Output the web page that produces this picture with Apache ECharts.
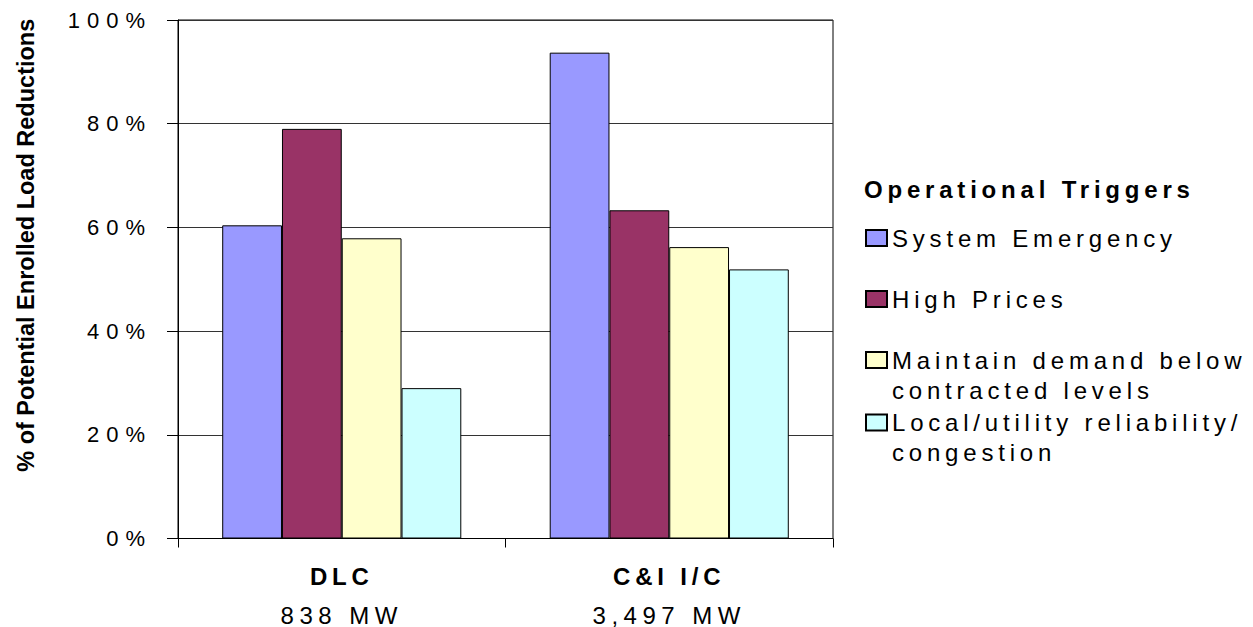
<!DOCTYPE html>
<html>
<head>
<meta charset="utf-8">
<script src="https://cdn.jsdelivr.net/npm/echarts@6/dist/echarts.min.js"></script>
<style>
  html, body { margin: 0; padding: 0; background: #fff; }
  #chart { width: 1253px; height: 627px; }
  /* tracked-out lettering for chart text; the axis title keeps normal spacing */
  #chart text, #chart tspan { letter-spacing: 5.5px; }
  #chart text[style*="sans-serif"], #chart tspan[style*="sans-serif"] { letter-spacing: 4.8px; }
  #chart text[style*="Helvetica"], #chart tspan[style*="Helvetica"] { letter-spacing: 7px; }
  #chart text[style*="Arial"], #chart tspan[style*="Arial"] { letter-spacing: 0; }
</style>
</head>
<body>
<div id="chart"></div>
<script>
// Program types and their enrolled capacity
const categories = ['DLC', 'C&I I/C'];
const capacities = ['838 MW', '3,497 MW'];

// Operational triggers (legend entries)
const triggerNames = [
  'System Emergency',
  'High Prices',
  'Maintain demand below\ncontracted levels',
  'Local/utility reliability/\ncongestion'
];

// % of potential enrolled load reductions, per program type
const systemEmergency = [60.4, 93.7];
const highPrices = [79.0, 63.3];
const maintainDemand = [57.9, 56.2];
const localReliability = [29.0, 51.9];

const seriesValues = [systemEmergency, highPrices, maintainDemand, localReliability];
const seriesColors = ['#9999FF', '#993366', '#FFFFCC', '#CCFFFF'];

// Value axis ticks
const yMin = 0, yMax = 100, yStep = 20;

const SPACED = '"Liberation Sans"';
const LEGEND_FONT = '"Liberation Sans", sans-serif';
const SPACED_WIDE = '"Liberation Sans", Helvetica';
const PLAIN = '"Liberation Sans", Arial';

const chart = echarts.init(document.getElementById('chart'), null, { renderer: 'svg' });

const series = triggerNames.map((name, i) => ({
  name: name,
  type: 'bar',
  data: seriesValues[i],
  barGap: '0%',
  barCategoryGap: '27%',
  itemStyle: { color: seriesColors[i], borderColor: '#000', borderWidth: 1 }
}));

// one legend block per entry; two-line entries get an empty leading line so the
// marker sits level with their first line of text
const LEGEND_LINE = 30;
const legendTops = [223, 284, 315, 377.5];
const legends = triggerNames.map((name, i) => ({
  left: 865,
  top: legendTops[i],
  padding: 0,
  orient: 'vertical',
  selectedMode: false,
  data: [name],
  icon: 'rect',
  itemWidth: 21,
  itemHeight: 16,
  formatter: n => (n.indexOf('\n') >= 0 ? '\n' + n : n),
  textStyle: {
    color: '#000',
    fontSize: 24,
    fontFamily: LEGEND_FONT,
    lineHeight: LEGEND_LINE
  }
}));

chart.setOption({
  animation: false,
  backgroundColor: '#fff',
  title: {
    text: 'Operational Triggers',
    left: 864,
    top: 174,
    padding: 0,
    textStyle: { color: '#000', fontSize: 24, fontWeight: 'bold', fontFamily: LEGEND_FONT, lineHeight: 30 }
  },
  legend: legends,
  grid: {
    left: 178, right: 420, top: 20, bottom: 88,
    show: true, borderColor: '#000', borderWidth: 1
  },
  xAxis: {
    type: 'category',
    data: categories,
    axisLine: { lineStyle: { color: '#000', width: 1 } },
    axisTick: { show: true, length: 9, lineStyle: { color: '#000' } },
    axisLabel: {
      margin: 18,
      formatter: (v, i) => '{b|' + v + '}\n{n|' + capacities[i] + '}',
      rich: {
        b: { fontSize: 24, fontWeight: 'bold', fontFamily: LEGEND_FONT, color: '#000', lineHeight: 39 },
        n: { fontSize: 24, fontFamily: SPACED, color: '#000', lineHeight: 39 }
      }
    }
  },
  yAxis: {
    type: 'value',
    min: yMin,
    max: yMax,
    interval: yStep,
    name: '% of Potential Enrolled Load Reductions',
    nameLocation: 'middle',
    nameRotate: 90,
    nameGap: 140,
    nameTextStyle: {
      color: '#000', fontSize: 23.5, fontWeight: 'bold', fontFamily: PLAIN,
      lineHeight: 24, padding: [0, 0, 0, 68]
    },
    axisLine: { show: true, lineStyle: { color: '#000', width: 1 } },
    axisTick: { show: true, length: 11, lineStyle: { color: '#000' } },
    axisLabel: { margin: 26, formatter: '{value}%', color: '#000', fontSize: 22, fontFamily: SPACED_WIDE },
    splitLine: { show: true, lineStyle: { color: '#333', width: 1 } }
  },
  series: series
});
</script>
</body>
</html>
